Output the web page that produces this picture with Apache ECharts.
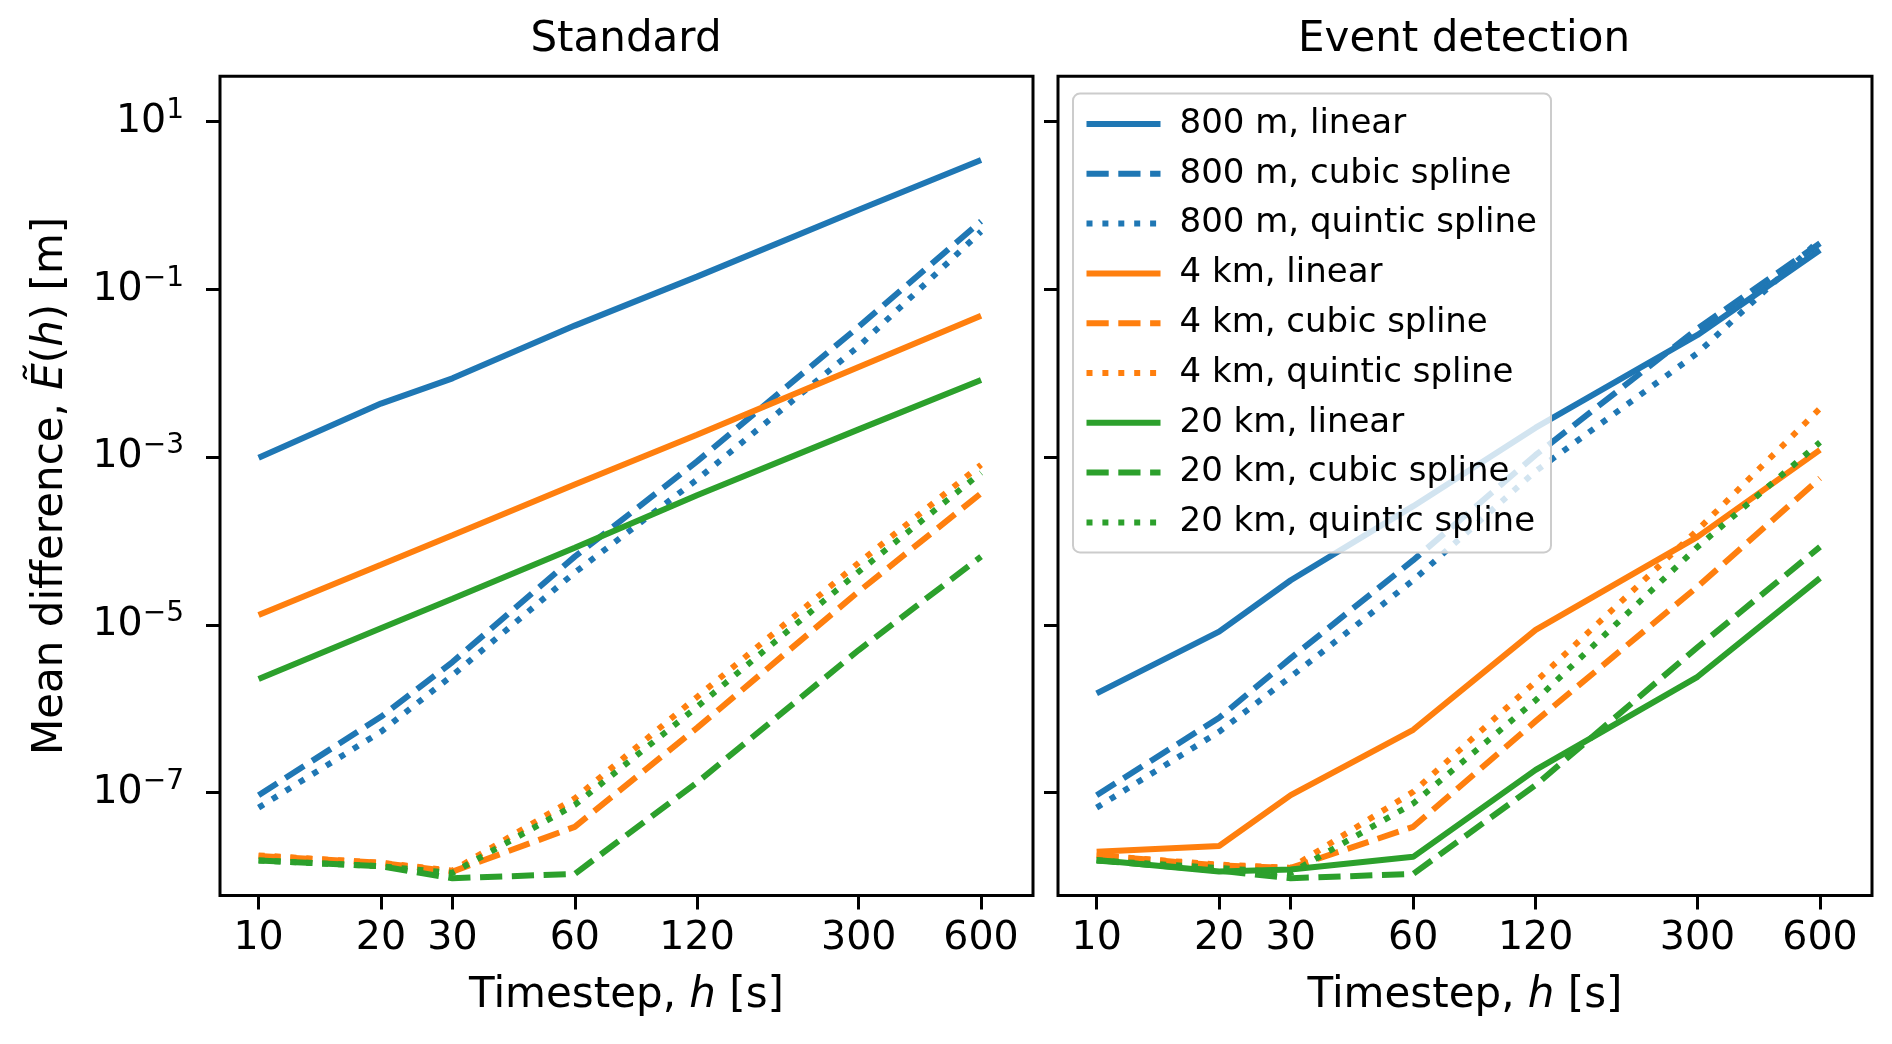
<!DOCTYPE html>
<html>
<head>
<meta charset="utf-8">
<script src="https://cdn.jsdelivr.net/npm/echarts@6/dist/echarts.min.js"></script>
<style>
html,body{margin:0;padding:0;background:#fff;}
#chart{width:1892px;height:1044px;}
</style>
</head>
<body>
<div id="chart"></div>
<script>
// ---- data ----
const timesteps = [10, 20, 30, 60, 120, 300, 600];
const xTickValues = [10, 20, 30, 60, 120, 300, 600];
const yTickValues = [1e-7, 1e-5, 1e-3, 1e-1, 1e1];
const seriesNames = ['800 m, linear', '800 m, cubic spline', '800 m, quintic spline',
  '4 km, linear', '4 km, cubic spline', '4 km, quintic spline',
  '20 km, linear', '20 km, cubic spline', '20 km, quintic spline'];
const panelTitles = ['Standard', 'Event detection'];

// Standard
const std800Linear  = [9.8e-4, 4.35e-3, 8.7e-3, 3.7e-2, 0.142, 0.89, 3.49];
const std800Cubic   = [9.3e-8, 8.0e-7, 3.6e-6, 6.5e-5, 8.9e-4, 3.6e-2, 0.65];
const std800Quintic = [6.6e-8, 5.3e-7, 2.5e-6, 4.2e-5, 5.4e-4, 2.1e-2, 0.49];
const std4Linear    = [1.31e-5, 5.2e-5, 1.17e-4, 4.7e-4, 1.85e-3, 1.19e-2, 4.85e-2];
const std4Cubic     = [1.75e-8, 1.45e-8, 1.14e-8, 3.9e-8, 5.9e-7, 2.5e-5, 3.7e-4];
const std4Quintic   = [1.78e-8, 1.45e-8, 1.17e-8, 8.5e-8, 1.38e-6, 5.5e-5, 8.1e-4];
const std20Linear   = [2.26e-6, 9.1e-6, 2.04e-5, 8.3e-5, 3.5e-4, 2.14e-3, 8.3e-3];
const std20Cubic    = [1.55e-8, 1.32e-8, 9.5e-9, 1.07e-8, 1.32e-7, 5.0e-6, 6.5e-5];
const std20Quintic  = [1.55e-8, 1.32e-8, 1.1e-8, 7.1e-8, 1.05e-6, 4.3e-5, 6.5e-4];

// Event detection
const evt800Linear  = [1.52e-6, 8.3e-6, 3.4e-5, 2.6e-4, 2.24e-3, 2.86e-2, 0.295];
const evt800Cubic   = [9.3e-8, 7.8e-7, 4.0e-6, 5.9e-5, 1.06e-3, 3.4e-2, 0.355];
const evt800Quintic = [6.6e-8, 5.3e-7, 2.4e-6, 3.4e-5, 6.8e-4, 1.74e-2, 0.39];
const evt4Linear    = [1.97e-8, 2.3e-8, 9.3e-8, 5.6e-7, 8.7e-6, 1.12e-4, 1.22e-3];
const evt4Cubic     = [1.78e-8, 1.35e-8, 1.26e-8, 3.9e-8, 7.1e-7, 2.85e-5, 5.6e-4];
const evt4Quintic   = [1.78e-8, 1.38e-8, 1.26e-8, 1.02e-7, 2.1e-6, 1.35e-4, 3.8e-3];
const evt20Linear   = [1.57e-8, 1.14e-8, 1.21e-8, 1.71e-8, 1.86e-7, 2.4e-6, 3.6e-5];
const evt20Cubic    = [1.55e-8, 1.17e-8, 9.5e-9, 1.07e-8, 1.23e-7, 5.4e-6, 8.5e-5];
const evt20Quintic  = [1.55e-8, 1.26e-8, 1.1e-8, 7.4e-8, 1.26e-6, 8.5e-5, 1.5e-3];

const standardData = [std800Linear, std800Cubic, std800Quintic, std4Linear, std4Cubic, std4Quintic, std20Linear, std20Cubic, std20Quintic];
const eventData = [evt800Linear, evt800Cubic, evt800Quintic, evt4Linear, evt4Cubic, evt4Quintic, evt20Linear, evt20Cubic, evt20Quintic];

// ---- styles ----
const FONT = 'DejaVu Sans';
const colors = ['#1f77b4', '#1f77b4', '#1f77b4', '#ff7f0e', '#ff7f0e', '#ff7f0e', '#2ca02c', '#2ca02c', '#2ca02c'];
const LW = 6;
const dashTypes = ['solid', [22.2, 9.6], [6, 9.9]];

const X_MIN = Math.pow(10, 0.905), X_MAX = Math.pow(10, 2.906);
const Y_MIN = Math.pow(10, -8.228), Y_MAX = Math.pow(10, 1.541);

const grids = [
  {left: 220, top: 76.3, width: 813, height: 819.2},
  {left: 1058, top: 76.3, width: 814, height: 819.2}
];

function yLabel(v) {
  const e = Math.round(Math.log10(v));
  return '{b|10}{s|' + (e < 0 ? '\u2212' : '') + Math.abs(e) + '}';
}

const xAxes = grids.map((g, i) => ({
  type: 'log', gridIndex: i, min: X_MIN, max: X_MAX,
  name: 'Timestep, {i|h} [s]', nameLocation: 'middle', nameGap: 80,
  nameTextStyle: {fontFamily: FONT, fontSize: 42, color: '#000',
    rich: {i: {fontFamily: FONT, fontSize: 42, fontStyle: 'italic', color: '#000'}}},
  axisLine: {show: false},
  splitLine: {show: false},
  minorTick: {show: false},
  axisTick: {show: true, inside: false, length: 14, lineStyle: {color: '#000', width: 3}, customValues: xTickValues},
  axisLabel: {show: true, margin: 23, fontFamily: FONT, fontSize: 39.5, color: '#000', customValues: xTickValues,
    formatter: v => String(Math.round(v))}
}));

const yAxes = grids.map((g, i) => ({
  type: 'log', gridIndex: i, min: Y_MIN, max: Y_MAX,
  name: i === 0 ? 'Mean difference, {i|\u1EBC}({i|h}) [m]' : '',
  nameLocation: 'middle', nameGap: 148,
  nameTextStyle: {fontFamily: FONT, fontSize: 42, color: '#000',
    rich: {i: {fontFamily: FONT, fontSize: 42, fontStyle: 'italic', color: '#000'}}},
  axisLine: {show: false},
  splitLine: {show: false},
  minorTick: {show: false},
  axisTick: {show: true, inside: false, length: 14, lineStyle: {color: '#000', width: 3}, customValues: yTickValues},
  axisLabel: {show: i === 0, margin: 36, fontFamily: FONT, color: '#000', customValues: yTickValues,
    formatter: yLabel,
    rich: {
      b: {fontFamily: FONT, fontSize: 39.5, lineHeight: 50, color: '#000'},
      s: {fontFamily: FONT, fontSize: 28, lineHeight: 28, verticalAlign: 'top', color: '#000'}
    }}
}));

const series = [];
[standardData, eventData].forEach((panel, p) => {
  panel.forEach((vals, k) => {
    series.push({
      name: seriesNames[k], type: 'line', xAxisIndex: p, yAxisIndex: p,
      data: timesteps.map((t, j) => [t, vals[j]]),
      symbol: 'none', showSymbol: false, clip: true,
      color: colors[k],
      lineStyle: {width: LW, color: colors[k], type: dashTypes[k % 3], cap: 'butt'},
      emphasis: {disabled: true},
      z: 2 + k * 0.01
    });
  });
});

const option = {
  animation: false,
  backgroundColor: '#fff',
  title: [
    {text: panelTitles[0], left: 621, top: 14.5, textAlign: 'center',
      textStyle: {fontFamily: FONT, fontSize: 42, fontWeight: 'normal', color: '#000'}},
    {text: panelTitles[1], left: 1459, top: 14.5, textAlign: 'center',
      textStyle: {fontFamily: FONT, fontSize: 42, fontWeight: 'normal', color: '#000'}}
  ],
  grid: grids.map(g => Object.assign({show: true, borderColor: '#000', borderWidth: 3, backgroundColor: 'transparent', containLabel: false}, g)),
  xAxis: xAxes,
  yAxis: yAxes,
  legend: {
    data: seriesNames, orient: 'vertical', left: 1073, top: 93.6,
    itemWidth: 74, itemHeight: 20, itemGap: 15.8,
    padding: [13.4, 14, 13, 10.5],
    backgroundColor: 'rgba(255,255,255,0.8)', borderColor: '#cccccc', borderWidth: 2, borderRadius: 7,
    selectedMode: false,
    itemStyle: {color: 'rgba(0,0,0,0)', borderWidth: 0, opacity: 0},
    lineStyle: {width: LW, cap: 'butt'},
    textStyle: {fontFamily: FONT, fontSize: 34, color: '#000', padding: [0, 0, 0, 14]}
  },
  series: series
};

const chart = echarts.init(document.getElementById('chart'), null, {renderer: 'canvas'});
chart.setOption(option);
</script>
</body>
</html>
